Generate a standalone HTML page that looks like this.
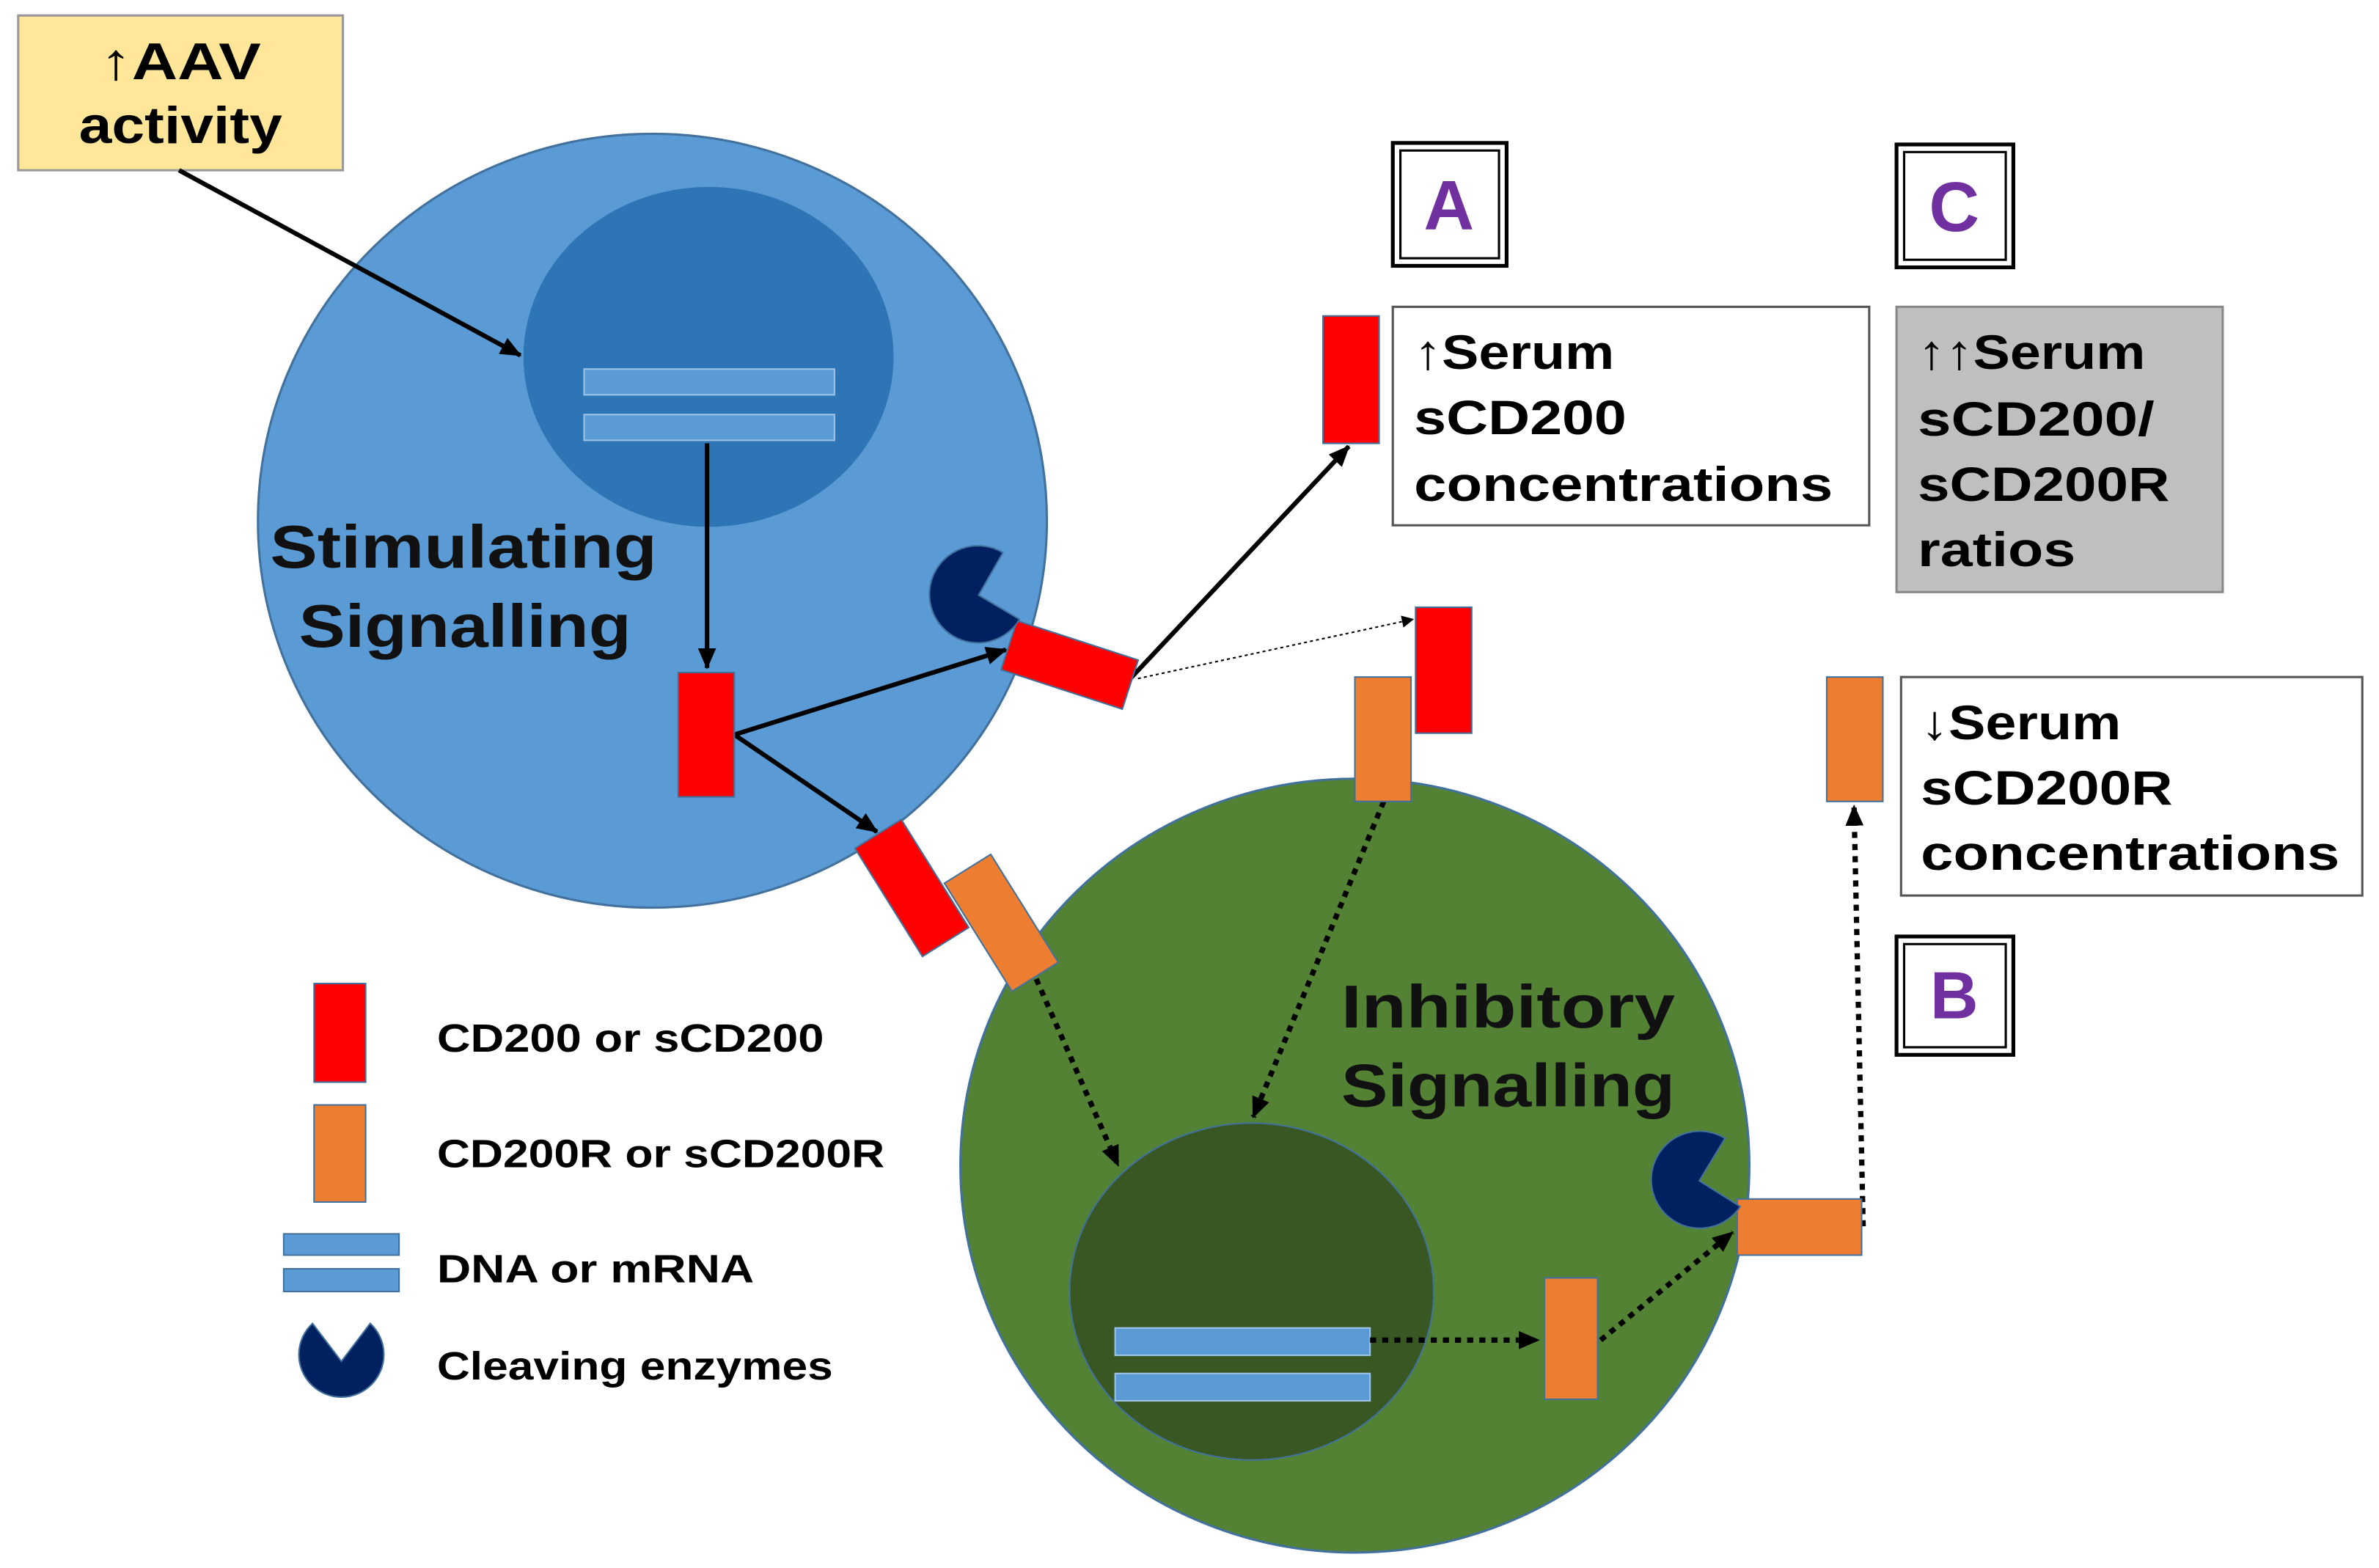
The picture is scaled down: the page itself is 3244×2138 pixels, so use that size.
<!DOCTYPE html>
<html><head><meta charset="utf-8"><style>
html,body{margin:0;padding:0;background:#fff;}
svg{display:block;}
text{font-family:"Liberation Sans",sans-serif;font-weight:bold;}
</style></head><body>
<svg width="3244" height="2138" viewBox="0 0 1568 1033" xmlns="http://www.w3.org/2000/svg">
<defs>
<marker id="ah" markerWidth="8" markerHeight="8" refX="7" refY="4" orient="auto" markerUnits="userSpaceOnUse"><path d="M0,0 L8,4 L0,8 z" fill="#000"/></marker>
<marker id="ahs" markerWidth="14" markerHeight="12" refX="13" refY="6" orient="auto" markerUnits="userSpaceOnUse"><path d="M0,0 L14,6 L0,12 z" fill="#000"/></marker>
</defs>
<rect width="1568" height="1033" fill="#fff"/>
<rect x="12" y="10" width="214" height="102" fill="#ffe699" stroke="#999" stroke-width="1.5"/>
<text x="66" y="52" font-size="34" textLength="106" lengthAdjust="spacingAndGlyphs">↑AAV</text>
<text x="52" y="94" font-size="34" textLength="134" lengthAdjust="spacingAndGlyphs">activity</text>
<ellipse cx="430" cy="343" rx="260" ry="255" fill="#5b9bd5" stroke="#41719c" stroke-width="1.5"/>
<ellipse cx="467" cy="235" rx="122" ry="112" fill="#2e75b6"/>
<rect x="385" y="243" width="165" height="17" fill="#5b9bd5" stroke="#9dc3e6"/>
<rect x="385" y="273" width="165" height="17" fill="#5b9bd5" stroke="#9dc3e6"/>
<text x="178" y="374" font-size="40" fill="#111" textLength="255" lengthAdjust="spacingAndGlyphs">Stimulating</text>
<text x="197" y="426" font-size="40" fill="#111" textLength="219" lengthAdjust="spacingAndGlyphs">Signalling</text>
<ellipse cx="893" cy="768" rx="260" ry="255" fill="#548235" stroke="#41719c" stroke-width="1.5"/>
<ellipse cx="825" cy="851" rx="120" ry="111" fill="#385723" stroke="#41719c"/>
<rect x="735" y="875" width="168" height="18" fill="#5b9bd5" stroke="#9dc3e6"/>
<rect x="735" y="905" width="168" height="18" fill="#5b9bd5" stroke="#9dc3e6"/>
<text x="884" y="677" font-size="40" fill="#111" textLength="220" lengthAdjust="spacingAndGlyphs">Inhibitory</text>
<text x="884" y="729" font-size="40" fill="#111" textLength="220" lengthAdjust="spacingAndGlyphs">Signalling</text>
<g stroke="#000" stroke-width="3" fill="none">
<line x1="118" y1="112" x2="343" y2="234" marker-end="url(#ahs)"/>
<line x1="466" y1="292" x2="466" y2="440" marker-end="url(#ahs)"/>
<line x1="484" y1="484" x2="663" y2="428" marker-end="url(#ahs)"/>
<line x1="484" y1="484" x2="578" y2="548" marker-end="url(#ahs)"/>
<line x1="745" y1="447" x2="889" y2="294" marker-end="url(#ahs)"/>
</g>
<line x1="750" y1="447" x2="931" y2="408" stroke="#000" stroke-width="1" stroke-dasharray="2,2" marker-end="url(#ah)"/>
<g stroke="#000" stroke-width="3.5" fill="none" stroke-dasharray="4,4">
<line x1="683" y1="645" x2="737" y2="768" marker-end="url(#ahs)"/>
<line x1="912" y1="528" x2="826" y2="736" marker-end="url(#ahs)"/>
<line x1="903" y1="883" x2="1014" y2="883" marker-end="url(#ahs)"/>
<line x1="1055" y1="883" x2="1142" y2="812" marker-end="url(#ahs)"/>
<line x1="1228" y1="808" x2="1222" y2="531" marker-end="url(#ahs)"/>
</g>
<rect x="447" y="443" width="37" height="82" fill="#ff0000" stroke="#41719c"/>
<rect x="-42" y="-17" width="84" height="34" fill="#ff0000" stroke="#41719c" transform="translate(705,438) rotate(18)"/>
<rect x="872" y="208" width="37" height="84" fill="#ff0000" stroke="#41719c"/>
<rect x="933" y="400" width="37" height="83" fill="#ff0000" stroke="#41719c"/>
<rect x="893" y="446" width="37" height="82" fill="#ed7d31" stroke="#41719c"/>
<rect x="-18" y="-42" width="36" height="84" fill="#ff0000" stroke="#41719c" transform="translate(601,585) rotate(-32)"/>
<rect x="-18" y="-42" width="36" height="84" fill="#ed7d31" stroke="#41719c" transform="translate(660,608) rotate(-32)"/>
<rect x="1018" y="842" width="35" height="80" fill="#ed7d31" stroke="#41719c"/>
<rect x="1145" y="790" width="82" height="37" fill="#ed7d31" stroke="#41719c"/>
<rect x="1204" y="446" width="37" height="82" fill="#ed7d31" stroke="#41719c"/>
<path d="M645,392 L672,408 A32,32 0 1 1 661,364 Z" fill="#002060" stroke="#41719c"/>
<path d="M1120,778 L1147,795 A32,32 0 1 1 1137,750 Z" fill="#002060" stroke="#41719c"/>
<path d="M225,897 L206,872 A28,28 0 1 0 244,872 Z" fill="#002060" stroke="#41719c"/>
<g fill="#fff" stroke="#000">
<rect x="918" y="94" width="75" height="81" stroke-width="2.5"/>
<rect x="923" y="99" width="65" height="71" stroke-width="1.5"/>
<rect x="1250" y="95" width="77" height="81" stroke-width="2.5"/>
<rect x="1255" y="100" width="67" height="71" stroke-width="1.5"/>
<rect x="1250" y="617" width="77" height="78" stroke-width="2.5"/>
<rect x="1255" y="622" width="67" height="68" stroke-width="1.5"/>
</g>
<text x="955" y="151" font-size="46" text-anchor="middle" fill="#7030a0">A</text>
<text x="1288" y="152" font-size="46" text-anchor="middle" fill="#7030a0">C</text>
<text x="1288" y="671" font-size="44" text-anchor="middle" fill="#7030a0">B</text>
<rect x="918" y="202" width="314" height="144" fill="#fff" stroke="#555" stroke-width="1.5"/>
<text x="932" y="243" font-size="32" textLength="132" lengthAdjust="spacingAndGlyphs">↑Serum</text>
<text x="932" y="286" font-size="32" textLength="140" lengthAdjust="spacingAndGlyphs">sCD200</text>
<text x="932" y="330" font-size="32" textLength="276" lengthAdjust="spacingAndGlyphs">concentrations</text>
<rect x="1250" y="202" width="215" height="188" fill="#bfbfbf" stroke="#888" stroke-width="1.5"/>
<text x="1264" y="243" font-size="32" textLength="150" lengthAdjust="spacingAndGlyphs">↑↑Serum</text>
<text x="1264" y="287" font-size="32" textLength="156" lengthAdjust="spacingAndGlyphs">sCD200/</text>
<text x="1264" y="330" font-size="32" textLength="166" lengthAdjust="spacingAndGlyphs">sCD200R</text>
<text x="1264" y="373" font-size="32" textLength="104" lengthAdjust="spacingAndGlyphs">ratios</text>
<rect x="1253" y="446" width="304" height="144" fill="#fff" stroke="#555" stroke-width="1.5"/>
<text x="1266" y="487" font-size="32" textLength="132" lengthAdjust="spacingAndGlyphs">↓Serum</text>
<text x="1266" y="530" font-size="32" textLength="166" lengthAdjust="spacingAndGlyphs">sCD200R</text>
<text x="1266" y="573" font-size="32" textLength="276" lengthAdjust="spacingAndGlyphs">concentrations</text>
<rect x="207" y="648" width="34" height="65" fill="#ff0000" stroke="#41719c"/>
<rect x="207" y="728" width="34" height="64" fill="#ed7d31" stroke="#41719c"/>
<rect x="187" y="813" width="76" height="14" fill="#5b9bd5" stroke="#41719c"/>
<rect x="187" y="836" width="76" height="15" fill="#5b9bd5" stroke="#41719c"/>
<text x="288" y="693" font-size="26" textLength="255" lengthAdjust="spacingAndGlyphs">CD200 or sCD200</text>
<text x="288" y="769" font-size="26" textLength="295" lengthAdjust="spacingAndGlyphs">CD200R or sCD200R</text>
<text x="288" y="845" font-size="26" textLength="209" lengthAdjust="spacingAndGlyphs">DNA or mRNA</text>
<text x="288" y="909" font-size="26" textLength="261" lengthAdjust="spacingAndGlyphs">Cleaving enzymes</text>
</svg>
</body></html>
